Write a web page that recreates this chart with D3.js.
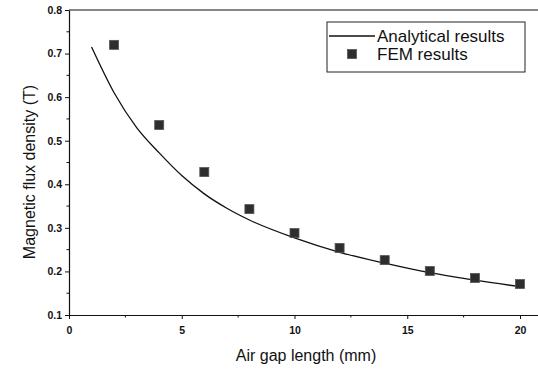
<!DOCTYPE html>
<html>
<head>
<meta charset="utf-8">
<script src="https://cdn.jsdelivr.net/npm/d3@7/dist/d3.min.js"></script>
<style>
  body { margin: 0; background: #fff; }
  svg { font-family: "Liberation Sans", Arial, sans-serif; }
</style>
</head>
<body>
<div id="chart"></div>
<script>
// FEM results (markers)
const femGap = [2, 4, 6, 8, 10, 12, 14, 16, 18, 20];
const femB = [0.72, 0.536, 0.428, 0.343, 0.288, 0.254, 0.226, 0.201, 0.185, 0.171];

// Analytical results (line)
const anaGap = [1, 2, 3, 4, 5, 6, 7, 8, 10, 12, 14, 16, 18, 20];
const anaB = [0.715, 0.61, 0.53, 0.472, 0.42, 0.378, 0.345, 0.318, 0.277, 0.244, 0.219, 0.197, 0.180, 0.165];

const xTicks = [0, 5, 10, 15, 20];
const yTicks = [0.1, 0.2, 0.3, 0.4, 0.5, 0.6, 0.7, 0.8];
const legendLabels = ["Analytical results", "FEM results"];

const width = 538;
const height = 370;
const margin = { top: 10, right: 0, bottom: 55, left: 69 };

const svg = d3.select("#chart")
    .append("svg")
    .attr("width", width)
    .attr("height", height);

const xScale = d3.scaleLinear()
    .domain([0, 21])
    .range([margin.left, margin.left + 21 * 22.55]);

const yScale = d3.scaleLinear()
    .domain([0.1, 0.8])
    .range([height - margin.bottom, margin.top]);

// frame (top line)
svg.append("line")
    .attr("x1", margin.left).attr("x2", width)
    .attr("y1", yScale(0.8)).attr("y2", yScale(0.8))
    .attr("stroke", "#111").attr("stroke-width", 1.2);

// X axis
const xAxis = svg.append("g")
    .attr("transform", `translate(0,${yScale(0.1)})`)
    .call(d3.axisBottom(xScale).tickValues(xTicks).tickSize(4).tickSizeOuter(0).tickFormat(d3.format("d")));
xAxis.append("g").selectAll("line")
    .data(d3.range(2.5, 21, 5))
    .join("line")
    .attr("x1", d => xScale(d)).attr("x2", d => xScale(d))
    .attr("y1", 0).attr("y2", 2.5)
    .attr("stroke", "#111");

// Y axis
const yAxis = svg.append("g")
    .attr("transform", `translate(${margin.left},0)`)
    .call(d3.axisLeft(yScale).tickValues(yTicks).tickSize(4).tickSizeOuter(0).tickFormat(d3.format(".1f")));
yAxis.append("g").selectAll("line")
    .data(d3.range(0.15, 0.8, 0.1))
    .join("line")
    .attr("y1", d => yScale(d)).attr("y2", d => yScale(d))
    .attr("x1", 0).attr("x2", -2.5)
    .attr("stroke", "#111");

svg.selectAll(".domain").attr("stroke", "#111").attr("stroke-width", 1.2);
svg.selectAll(".tick line").attr("stroke", "#111");
svg.selectAll(".tick text")
    .attr("fill", "#111")
    .style("font-size", "10.5px")
    .style("font-weight", "bold");
xAxis.selectAll(".tick text").attr("dy", "1.1em");

// Axis labels
svg.append("text")
    .attr("x", 306)
    .attr("y", 361)
    .attr("text-anchor", "middle")
    .style("font-size", "16px")
    .attr("fill", "#111")
    .text("Air gap length (mm)");

svg.append("text")
    .attr("transform", `translate(35,172) rotate(-90)`)
    .attr("text-anchor", "middle")
    .style("font-size", "16px")
    .attr("fill", "#111")
    .text("Magnetic flux density (T)");

// Analytical line
const line = d3.line()
    .x((d, i) => xScale(anaGap[i]))
    .y(d => yScale(d))
    .curve(d3.curveMonotoneX);

svg.append("path")
    .datum(anaB)
    .attr("d", line)
    .attr("fill", "none")
    .attr("stroke", "#111")
    .attr("stroke-width", 1.3);

// FEM markers
const ms = 9;
svg.append("g").selectAll("rect")
    .data(femB)
    .join("rect")
    .attr("x", (d, i) => xScale(femGap[i]) - ms / 2)
    .attr("y", d => yScale(d) - ms / 2)
    .attr("width", ms)
    .attr("height", ms)
    .attr("fill", "#2e2e2e")
    .attr("stroke", "#555")
    .attr("stroke-width", 0.8);

// Legend
const legend = svg.append("g");
legend.append("rect")
    .attr("x", 327).attr("y", 22)
    .attr("width", 198).attr("height", 50)
    .attr("fill", "#fff")
    .attr("stroke", "#222")
    .attr("stroke-width", 1);
legend.append("line")
    .attr("x1", 329).attr("x2", 375)
    .attr("y1", 36).attr("y2", 36)
    .attr("stroke", "#111").attr("stroke-width", 1.3);
legend.append("rect")
    .attr("x", 352 - ms / 2).attr("y", 54 - ms / 2)
    .attr("width", ms).attr("height", ms)
    .attr("fill", "#2e2e2e").attr("stroke", "#555").attr("stroke-width", 0.8);
legend.selectAll("text")
    .data(legendLabels)
    .join("text")
    .attr("x", 377)
    .attr("y", (d, i) => 42 + i * 18)
    .style("font-size", "17px")
    .attr("fill", "#111")
    .text(d => d);
</script>
</body>
</html>
